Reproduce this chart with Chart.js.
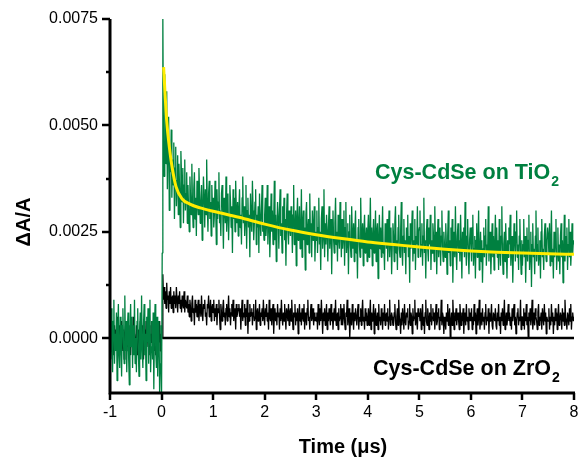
<!DOCTYPE html>
<html>
<head>
<meta charset="utf-8">
<script src="https://cdn.jsdelivr.net/npm/chart.js@4.4.1/dist/chart.umd.min.js"></script>
<style>
  body { margin: 0; background: #fff; }
  #wrap { width: 582px; height: 458px; }
</style>
</head>
<body>
<div id="wrap"><canvas id="chart" width="582" height="458"></canvas></div>
<script>
// Transient absorption traces, values in units of 1e-4 (dA/A)
// sampling grid of the traces (microseconds)
const greenStart = -1.0;
const blackStart = -1.0;
const sampleStep = 0.0125;

// Cys-CdSe on TiO2 (green), one row = 0.5 us
const greenValues = [
    3, -5, 7, -2, -8, 4, 9, -6, 1, -3, 6, -10, 2, 8, -4, -7, 5, 0, -9, 3, 7, -1, -6, 10, -3, 4, -8, 2, 6, -5, -11, 1, 8, -2, 5, -7, 3, -4, 9, -6,
    0, -8, 4, 7, -3, -9, 2, 6, -5, 10, -2, -7, 3, 8, -4, 1, -10, 5, -1, 7, -6, 3, 9, -8, -2, 4, -5, 6, -12, 2, 8, -3, -7, 5, -9, 1, 4, -13, -6, 3,
    -13, 20, 75, 45, 38, 62, 50, 41, 58, 35, 47, 52, 30, 44, 39, 49, 33, 42, 36, 46, 28, 40, 45, 31, 37, 43, 29, 41, 35, 26, 44, 38, 32, 40, 27, 36, 42, 30, 34, 39,
    27, 36, 30, 25, 38, 33, 29, 41, 31, 26, 35, 39, 28, 33, 24, 37, 32, 29, 40, 34, 27, 31, 36, 23, 30, 38, 33, 26, 35, 29, 42, 31, 25, 34, 37, 28, 32, 24, 36, 30,
    33, 26, 29, 37, 31, 22, 35, 28, 32, 39, 27, 30, 24, 34, 36, 29, 21, 33, 31, 27, 38, 25, 30, 34, 23, 29, 36, 32, 26, 31, 20, 35, 28, 33, 25, 37, 30, 27, 32, 24,
    30, 35, 26, 29, 22, 33, 38, 27, 31, 24, 28, 36, 21, 30, 33, 26, 29, 19, 34, 28, 25, 37, 30, 23, 27, 32, 35, 22, 29, 26, 31, 20, 34, 28, 24, 30, 36, 25, 27, 23,
    29, 33, 24, 27, 36, 22, 28, 31, 19, 26, 34, 25, 30, 22, 27, 37, 23, 29, 18, 26, 32, 28, 21, 30, 35, 24, 27, 20, 31, 26, 33, 23, 28, 17, 29, 34, 25, 22, 30, 26,
    24, 31, 27, 20, 29, 36, 22, 25, 30, 17, 28, 33, 23, 26, 31, 21, 24, 35, 19, 27, 30, 23, 26, 16, 29, 32, 22, 25, 28, 20, 34, 24, 27, 19, 30, 23, 26, 31, 18, 25,
    23, 30, 20, 26, 33, 22, 25, 16, 28, 31, 21, 24, 35, 19, 27, 22, 29, 25, 18, 26, 31, 21, 24, 28, 15, 26, 30, 23, 20, 27, 33, 22, 25, 18, 29, 24, 21, 32, 26, 19,
    28, 21, 24, 30, 17, 26, 32, 20, 23, 27, 15, 25, 29, 22, 19, 31, 24, 21, 27, 18, 25, 30, 20, 23, 14, 26, 28, 22, 19, 33, 24, 21, 27, 17, 25, 29, 20, 23, 26, 18,
    25, 29, 19, 23, 33, 21, 26, 17, 24, 28, 20, 22, 30, 18, 25, 27, 14, 23, 29, 21, 26, 19, 24, 31, 20, 22, 16, 27, 25, 21, 28, 18, 23, 30, 19, 24, 26, 15, 22, 27,
    24, 18, 27, 31, 20, 23, 16, 26, 29, 21, 19, 25, 32, 22, 17, 24, 28, 20, 23, 15, 26, 22, 29, 19, 24, 13, 27, 21, 25, 30, 18, 23, 20, 28, 16, 24, 22, 31, 19, 25,
    26, 30, 19, 22, 27, 17, 24, 33, 20, 23, 14, 25, 28, 21, 18, 26, 22, 29, 16, 23, 20, 27, 24, 18, 31, 21, 25, 15, 23, 28, 19, 22, 26, 17, 24, 30, 21, 18, 25, 22,
    19, 27, 22, 15, 24, 30, 20, 23, 17, 26, 21, 28, 13, 22, 25, 19, 31, 21, 16, 24, 27, 20, 23, 18, 29, 22, 14, 25, 21, 26, 19, 32, 22, 17, 24, 28, 20, 15, 23, 26,
    22, 18, 26, 29, 17, 21, 24, 14, 23, 27, 19, 22, 30, 16, 20, 25, 18, 23, 13, 21, 26, 19, 24, 28, 17, 22, 20, 31, 18, 23, 25, 15, 21, 27, 19, 24, 16, 22, 29, 20,
    26, 19, 23, 16, 28, 21, 17, 24, 31, 20, 15, 22, 25, 18, 27, 21, 14, 23, 19, 26, 22, 29, 17, 21, 24, 13, 20, 27, 23, 18, 25, 30, 19, 22, 16, 24, 28, 20, 15, 23,
    17, 22, 28, 19, 24, 13, 21, 26, 18, 23, 29, 16, 20, 25, 12, 22, 27, 19, 21, 15, 24, 30, 18, 22, 26, 17, 20, 23, 14, 25, 28, 19, 21, 16, 24, 27, 20, 18, 23, 26,
    24, 20, 27, 17, 22, 30, 18, 21, 14, 25, 19, 23, 28, 16, 20, 26, 18, 22, 15, 24, 27, 19, 23, 13, 21, 29, 18, 24, 20, 26, 16, 22, 28, 19, 25, 17, 21, 27, 20, 23,
    22
];

// Cys-CdSe on ZrO2 (black), one row = 0.5 us
const blackValues = [
    2, -3, 1, 4, -2, 0, -4, 3, -1, 2, -3, 5, -2, 1, -4, 3, 0, -2, 4, -1, -3, 2, -5, 1, 3, -2, 0, 4, -3, 1, -1, 3, -4, 2, 0, -2, 5, -3, 1, -1,
    -2, 3, 0, -4, 2, 1, -3, 4, -1, -2, 3, 0, -5, 2, 1, -3, 4, -1, 2, -2, 0, 3, -4, 1, -1, 4, -2, 0, 3, -3, 1, -4, 2, 0, -2, 3, -1, 4, -3, 1,
    0, 0, 15, 9, 12, 8, 11, 7, 13, 9, 10, 6, 11, 8, 12, 7, 9, 10, 6, 11, 8, 10, 7, 12, 9, 6, 10, 8, 11, 7, 9, 6, 10, 8, 7, 11, 6, 9, 8, 7,
    10, 6, 8, 5, 9, 7, 4, 8, 10, 6, 7, 3, 9, 6, 8, 5, 7, 9, 4, 7, 8, 5, 10, 6, 4, 8, 7, 9, 5, 6, 3, 8, 7, 10, 5, 6, 9, 4, 7, 8,
    6, 9, 4, 7, 5, 8, 3, 7, 6, 9, 5, 2, 8, 6, 4, 7, 9, 5, 6, 3, 7, 8, 4, 6, 10, 5, 7, 3, 6, 8, 5, 9, 4, 6, 7, 2, 8, 5, 6, 7,
    8, 5, 7, 2, 6, 9, 4, 6, 5, 8, 3, 7, 5, 9, 1, 6, 4, 8, 5, 6, 7, 3, 6, 8, 4, 5, 9, 2, 6, 7, 4, 5, 8, 3, 6, 5, 7, 4, 9, 5,
    3, 7, 5, 8, 4, 6, 2, 9, 5, 4, 7, 3, 6, 8, 1, 5, 7, 4, 6, 3, 8, 5, 6, 2, 7, 4, 9, 5, 3, 6, 4, 8, 5, 2, 7, 6, 4, 8, 3, 6,
    7, 4, 9, 5, 2, 6, 5, 8, 3, 6, 4, 7, 1, 5, 8, 4, 6, 3, 7, 5, 4, 8, 2, 6, 5, 3, 7, 9, 4, 5, 2, 6, 8, 4, 5, 7, 3, 6, 4, 5,
    4, 6, 2, 8, 5, 3, 7, 4, 9, 5, 1, 6, 4, 7, 3, 5, 8, 2, 6, 4, 7, 5, 3, 8, 4, 6, 2, 5, 7, 4, 9, 3, 5, 6, 2, 7, 4, 5, 8, 3,
    7, 3, 5, 8, 4, 2, 6, 5, 9, 3, 5, 7, 0, 4, 6, 3, 8, 5, 2, 6, 4, 7, 5, 3, 6, 8, 2, 5, 4, 7, 3, 6, 9, 4, 5, 2, 7, 4, 6, 3,
    4, 7, 3, 5, 9, 2, 6, 4, 5, 8, 1, 5, 7, 3, 4, 6, 2, 8, 4, 5, 3, 7, 5, 2, 6, 4, 8, 3, 5, 6, 4, 7, 2, 5, 9, 3, 4, 6, 5, 3,
    3, 6, 8, 4, 2, 5, 7, 3, 9, 5, 4, 1, 6, 3, 7, 5, 2, 8, 4, 3, 6, 5, 7, 2, 4, 8, 3, 6, 5, 1, 7, 4, 5, 9, 3, 6, 4, 2, 7, 5,
    6, 4, 7, 2, 5, 8, 3, 5, 1, 6, 9, 4, 3, 7, 5, 2, 6, 4, 8, 3, 5, 7, 4, 6, 2, 5, 8, 3, 4, 6, 7, 2, 5, 4, 9, 3, 6, 5, 1, 4,
    5, 2, 6, 4, 8, 3, 5, 7, 0, 4, 6, 3, 9, 5, 2, 6, 4, 7, 3, 5, 6, 4, 2, 8, 5, 3, 6, 4, 7, 1, 5, 6, 3, 8, 4, 5, 2, 7, 4, 6,
    4, 7, 2, 5, 3, 8, 4, 6, 1, 5, 7, 3, 5, 9, 2, 4, 6, 3, 7, 4, 5, 2, 6, 8, 3, 5, 4, 7, 1, 6, 4, 5, 8, 3, 2, 6, 5, 4, 7, 3,
    2, 6, 4, 8, 3, 5, 1, 6, 4, 7, 3, 5, 9, 2, 4, 6, 3, 5, 8, 4, 6, 3, 5, 2, 7, 4, 6, 8, 3, 5, 1, 4, 6, 7, 3, 5, 4, 9, 2, 5,
    5, 3, 7, 2, 6, 4, 8, 3, 5, 0, 6, 4, 7, 3, 5, 9, 2, 4, 6, 3, 7, 5, 4, 2, 6, 8, 3, 5, 4, 6, 2, 7, 5, 3, 8, 4, 6, 1, 5, 4,
    4, 7, 2, 5, 3, 8, 4, 6, 1, 5, 3, 7, 4, 6, 2, 5, 8, 3, 4, 6, 5, 2, 7, 4, 6, 3, 9, 5, 4, 2, 6, 5, 3, 7, 4, 8, 2, 5, 6, 4,
    5
];

// fitted decay (yellow), dA/A
const fitTime = [0.04, 0.1, 0.15, 0.2, 0.28, 0.4, 0.55, 0.75, 1, 1.5, 2, 2.5, 3, 3.5, 4, 4.5, 5, 5.5, 6, 6.5, 7, 7.5, 8];
const fitValue = [0.00637, 0.0051, 0.0045, 0.00405, 0.00356, 0.00327, 0.00315, 0.00306, 0.00298, 0.00284, 0.00268, 0.00254,
    0.00243, 0.00234, 0.00226, 0.0022, 0.00214, 0.00209, 0.00205, 0.00202, 0.002, 0.00198, 0.00197];

// zero line under the ZrO2 trace
const baseTime = [0.02, 8];
const baseValue = [0, 0];

const xTicks = [-1, 0, 1, 2, 3, 4, 5, 6, 7, 8];
const yTicks = [0, 0.0025, 0.005, 0.0075];
const yMinorTicks = [0.00125, 0.00375, 0.00625];

const GREEN = 'rgb(0,128,64)';
const FONT = '"Liberation Sans", Arial, sans-serif';

const toPoints = (start, vals) => vals.map((v, i) => ({ x: start + i * sampleStep, y: v / 10000 }));
const pairPoints = (xs, ys) => xs.map((x, i) => ({ x: x, y: ys[i] }));

// axes, ticks and texts drawn on top
const decorPlugin = {
    id: 'decor',
    afterDraw(chart) {
        const ctx = chart.ctx;
        const xs = chart.scales.x, ys = chart.scales.y;
        const a = chart.chartArea;
        ctx.save();
        ctx.strokeStyle = '#000';
        ctx.lineCap = 'butt';

        // axis lines
        ctx.lineWidth = 3;
        ctx.beginPath();
        ctx.moveTo(a.left, a.top);
        ctx.lineTo(a.left, a.bottom);
        ctx.lineTo(a.right + 1, a.bottom);
        ctx.stroke();

        ctx.lineWidth = 2.5;
        yTicks.forEach(v => {
            const py = Math.round(ys.getPixelForValue(v));
            ctx.beginPath(); ctx.moveTo(a.left - 8, py); ctx.lineTo(a.left, py); ctx.stroke();
        });
        yMinorTicks.forEach(v => {
            const py = Math.round(ys.getPixelForValue(v));
            ctx.beginPath(); ctx.moveTo(a.left - 4, py); ctx.lineTo(a.left, py); ctx.stroke();
        });
        xTicks.forEach(v => {
            const px = Math.round(xs.getPixelForValue(v));
            ctx.beginPath(); ctx.moveTo(px, a.bottom); ctx.lineTo(px, a.bottom + 7); ctx.stroke();
        });

        ctx.fillStyle = '#000';
        ctx.textBaseline = 'alphabetic';
        // axis titles
        ctx.font = 'bold 20px ' + FONT;
        ctx.textAlign = 'center';
        ctx.fillText('Time (\u03bcs)', 343, 453);
        ctx.save();
        ctx.translate(30, 222);
        ctx.rotate(-Math.PI / 2);
        ctx.fillText('\u0394A/A', 0, 0);
        ctx.restore();

        // series labels with subscripts
        const label = (text, sub, x, y, color) => {
            ctx.fillStyle = color;
            ctx.textAlign = 'left';
            ctx.font = 'bold 21.5px ' + FONT;
            ctx.fillText(text, x, y);
            const w = ctx.measureText(text).width;
            ctx.font = 'bold 14px ' + FONT;
            ctx.fillText(sub, x + w + 1, y + 7);
        };
        label('Cys-CdSe on TiO', '2', 375, 179, GREEN);
        label('Cys-CdSe on ZrO', '2', 373, 375, '#000');
        ctx.restore();
    }
};

new Chart(document.getElementById('chart'), {
    type: 'line',
    data: {
        datasets: [
            {
                data: pairPoints(fitTime, fitValue),
                borderColor: 'rgb(255,236,0)',
                borderWidth: 3,
                cubicInterpolationMode: 'monotone',
                order: 0
            },
            {
                data: toPoints(greenStart, greenValues),
                borderColor: GREEN,
                borderWidth: 1.3,
                borderJoinStyle: 'bevel',
                order: 1
            },
            {
                data: toPoints(blackStart, blackValues),
                borderColor: '#000',
                borderWidth: 1.3,
                borderJoinStyle: 'bevel',
                order: 2
            },
            {
                data: pairPoints(baseTime, baseValue),
                borderColor: '#000',
                borderWidth: 2.5,
                order: 3
            }
        ]
    },
    options: {
        responsive: false,
        animation: false,
        events: [],
        elements: { point: { radius: 0 }, line: { tension: 0 } },
        layout: { padding: { left: 0, right: 8, top: 19, bottom: 0 } },
        plugins: { legend: { display: false }, tooltip: { enabled: false } },
        scales: {
            x: {
                type: 'linear',
                min: -1,
                max: 8,
                afterFit: s => { s.height = 65; },
                afterBuildTicks: s => { s.ticks = xTicks.map(v => ({ value: v })); },
                border: { display: false },
                grid: { drawOnChartArea: false, color: 'rgba(0,0,0,0)', tickLength: 7 },
                ticks: { color: '#000', font: { family: FONT, size: 16 }, padding: 3, maxRotation: 0 }
            },
            y: {
                type: 'linear',
                min: -0.00129,
                max: 0.0075,
                afterFit: s => { s.width = 110; },
                afterBuildTicks: s => { s.ticks = yTicks.map(v => ({ value: v })); },
                border: { display: false },
                grid: { drawOnChartArea: false, color: 'rgba(0,0,0,0)', tickLength: 8 },
                ticks: { color: '#000', font: { family: FONT, size: 16 }, padding: 4,
                    callback: v => v.toFixed(4) }
            }
        }
    },
    plugins: [decorPlugin]
});
</script>
</body>
</html>
